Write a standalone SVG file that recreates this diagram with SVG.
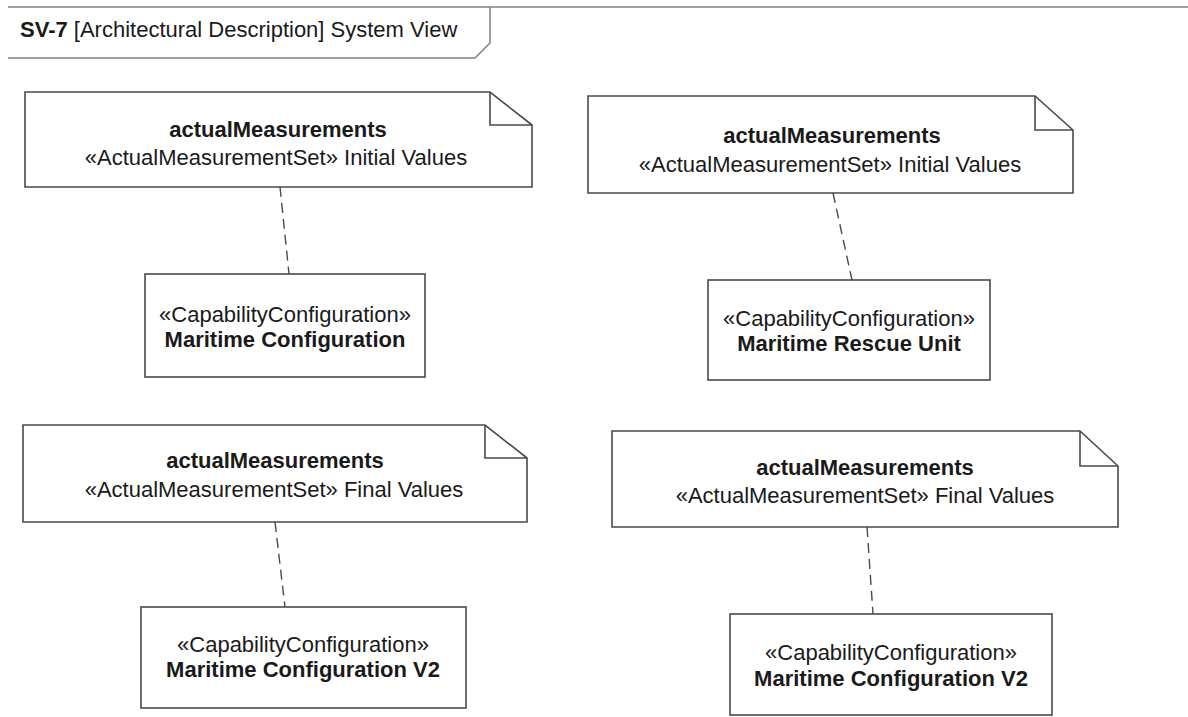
<svg xmlns="http://www.w3.org/2000/svg" width="1188" height="717" viewBox="0 0 1188 717">
<style>
.frame{fill:none;stroke:#808080;stroke-width:1.5}
.note{fill:#fff;stroke:#4a4a4a;stroke-width:1.6}
.fold{fill:none;stroke:#4a4a4a;stroke-width:1.6}
.box{fill:#fff;stroke:#4a4a4a;stroke-width:1.6}
.conn{fill:none;stroke:#4a4a4a;stroke-width:1.4;stroke-dasharray:10 6}
text{font-family:"Liberation Sans",Arial,sans-serif;font-size:22px;fill:#1a1a1a}
.c{text-anchor:middle}
.b{font-weight:bold}
</style>
<rect width="1188" height="717" fill="#fff"/>
<g id="frame">
<path class="frame" d="M8,7 L1188,7"/>
<path class="frame" d="M8,58 L475,58 L490,43 L490,7"/>
<text x="20" y="37"><tspan class="b">SV-7</tspan> [Architectural Description] System View</text>
</g>
<g id="connectors">
<path class="conn" d="M280,187 L289,274"/>
<path class="conn" d="M833,193 L852,280"/>
<path class="conn" d="M275,522 L285,607"/>
<path class="conn" d="M867,527 L873,614"/>
</g>
<g id="note1">
<path class="note" d="M25,92 L490,92 L532,125 L532,187 L25,187 Z"/>
<path class="fold" d="M490,92 L490,125 L532,125"/>
<text class="c b" x="278" y="137">actualMeasurements</text>
<text class="c" x="276" y="165">«ActualMeasurementSet» Initial Values</text>
</g>
<g id="note2">
<path class="note" d="M588,96 L1035,96 L1073,130 L1073,193 L588,193 Z"/>
<path class="fold" d="M1035,96 L1035,130 L1073,130"/>
<text class="c b" x="832" y="143">actualMeasurements</text>
<text class="c" x="830" y="172">«ActualMeasurementSet» Initial Values</text>
</g>
<g id="note3">
<path class="note" d="M23,425 L485,425 L527,458 L527,522 L23,522 Z"/>
<path class="fold" d="M485,425 L485,458 L527,458"/>
<text class="c b" x="275" y="468">actualMeasurements</text>
<text class="c" x="274" y="497">«ActualMeasurementSet» Final Values</text>
</g>
<g id="note4">
<path class="note" d="M612,431 L1080,431 L1118,466 L1118,527 L612,527 Z"/>
<path class="fold" d="M1080,431 L1080,466 L1118,466"/>
<text class="c b" x="865" y="475">actualMeasurements</text>
<text class="c" x="865" y="503">«ActualMeasurementSet» Final Values</text>
</g>
<g id="box1">
<rect class="box" x="145" y="274" width="280" height="103"/>
<text class="c" x="285" y="322">«CapabilityConfiguration»</text>
<text class="c b" x="285" y="347">Maritime Configuration</text>
</g>
<g id="box2">
<rect class="box" x="708" y="280" width="282" height="100"/>
<text class="c" x="849" y="326">«CapabilityConfiguration»</text>
<text class="c b" x="849" y="351">Maritime Rescue Unit</text>
</g>
<g id="box3">
<rect class="box" x="141" y="607" width="325" height="101"/>
<text class="c" x="303" y="652">«CapabilityConfiguration»</text>
<text class="c b" x="303" y="677">Maritime Configuration V2</text>
</g>
<g id="box4">
<rect class="box" x="730" y="614" width="322" height="101"/>
<text class="c" x="891" y="660">«CapabilityConfiguration»</text>
<text class="c b" x="891" y="686">Maritime Configuration V2</text>
</g>
</svg>
